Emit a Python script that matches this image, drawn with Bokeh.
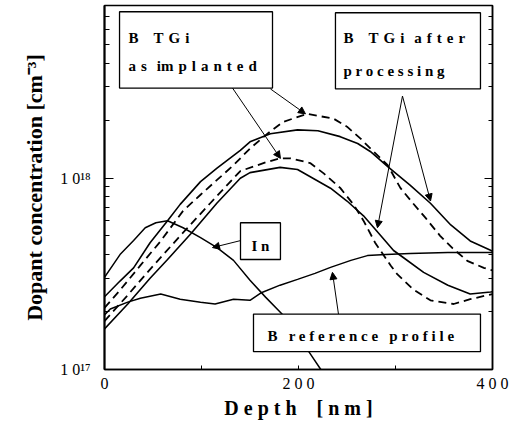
from bokeh.plotting import figure
from bokeh.models import Label, Arrow, NormalHead, LogAxis, FixedTicker
from bokeh.embed import file_html
from bokeh.resources import INLINE

# ---- SIMS depth profiles (depth in nm, concentration in cm^-3) ----
# B TGi after processing, upper profile (solid)
proc_hi_depth = [0, 16, 30, 47, 65, 78, 99, 116, 140, 150, 171, 199, 220, 243, 261,
                 274, 292, 315, 336, 357, 377, 398, 400]
proc_hi_conc = [2.4e17, 2.9e17, 3.4e17, 4.6e17, 6.0e17, 7.3e17, 9.6e17, 1.13e18, 1.40e18,
                1.55e18, 1.71e18, 1.79e18, 1.77e18, 1.65e18, 1.52e18, 1.38e18, 1.15e18,
                9.2e17, 7.4e17, 5.7e17, 4.7e17, 4.2e17, 4.15e17]

# B TGi as implanted, upper profile (dashed)
impl_hi_depth = [0, 16, 37, 58, 81, 99, 116, 133, 150, 168, 184, 209, 220, 236, 250,
                 264, 276, 292, 305, 317, 331, 346, 359, 374, 391, 400]
impl_hi_conc = [2.1e17, 2.6e17, 3.5e17, 4.7e17, 6.75e17, 8.2e17, 9.8e17, 1.17e18, 1.43e18,
                1.71e18, 1.97e18, 2.17e18, 2.12e18, 2.05e18, 1.86e18, 1.61e18, 1.40e18,
                1.17e18, 8.9e17, 7.5e17, 6.2e17, 5.0e17, 4.3e17, 3.7e17, 3.4e17, 3.3e17]

# B TGi as implanted, lower profile (dashed)
impl_lo_depth = [0, 24, 47, 78, 109, 140, 166, 181, 192, 212, 226, 243, 257, 267, 279,
                 295, 302, 318, 336, 360, 377, 395, 400]
impl_lo_conc = [1.79e17, 2.45e17, 3.34e17, 5.0e17, 7.4e17, 1.09e18, 1.21e18, 1.27e18,
                1.27e18, 1.20e18, 1.06e18, 8.9e17, 7.25e17, 6.0e17, 4.6e17, 3.5e17,
                3.14e17, 2.63e17, 2.3e17, 2.2e17, 2.33e17, 2.45e17, 2.48e17]

# B TGi after processing, lower profile (solid)
proc_lo_depth = [0, 24, 47, 65, 89, 116, 140, 150, 181, 199, 233, 250, 267, 284, 298,
                 308, 329, 354, 377, 398, 400]
proc_lo_conc = [1.63e17, 2.2e17, 3.0e17, 3.76e17, 5.13e17, 7.42e17, 1.0e18, 1.07e18,
                1.14e18, 1.11e18, 8.87e17, 7.6e17, 6.36e17, 5.07e17, 4.19e17, 3.85e17,
                3.22e17, 2.76e17, 2.48e17, 2.54e17, 2.55e17]

# B reference profile (solid)
ref_depth = [0, 6, 24, 37, 58, 78, 99, 114, 133, 150, 161, 181, 199, 217, 233, 254,
             271, 290, 315, 354, 400]
ref_conc = [1.93e17, 2.07e17, 2.25e17, 2.36e17, 2.48e17, 2.33e17, 2.25e17, 2.2e17,
            2.33e17, 2.3e17, 2.51e17, 2.76e17, 2.96e17, 3.18e17, 3.42e17, 3.72e17,
            3.94e17, 3.99e17, 4.04e17, 4.09e17, 4.09e17]

# In profile (solid)
in_depth = [0, 16, 30, 42, 53, 65, 81, 99, 116, 133, 150, 166, 183, 198, 212, 223]
in_conc = [3.03e17, 3.99e17, 4.72e17, 5.51e17, 5.85e17, 5.99e17, 5.51e17, 4.89e17,
           4.34e17, 3.72e17, 2.93e17, 2.39e17, 1.95e17, 1.54e17, 1.21e17, 1.0e17]

x_major_ticks = [0, 200, 400]
x_minor_ticks = [100, 300]
x_tick_labels = {0: "0", 200: "2 0 0", 400: "4 0 0"}
y_major_ticks = [1e17, 1e18]
y_minor_ticks = [2e17, 3e17, 4e17, 5e17, 6e17, 7e17, 8e17, 9e17,
                 2e18, 3e18, 4e18, 5e18, 6e18, 7e18]
y_tick_labels = {1e17: "1 0\u00b9\u2077", 1e18: "1 0\u00b9\u2078"}

FONT = "Liberation Serif"
NB = "\u00a0"
SP = "\u2004"   # three-per-em space used for letter spacing

p = figure(width=509, height=421, x_range=(0, 400), y_range=(1e17, 8e18),
           y_axis_type="log", output_backend="svg", toolbar_location=None,
           min_border_left=104, min_border_right=17, min_border_top=5,
           min_border_bottom=48)
p.xgrid.visible = False
p.ygrid.visible = False
p.outline_line_color = "black"
p.outline_line_width = 1.5
p.background_fill_color = "white"
p.border_fill_color = "white"

# bottom axis
xa = p.xaxis[0]
xa.ticker = FixedTicker(ticks=x_major_ticks, minor_ticks=x_minor_ticks)
xa.major_label_overrides = x_tick_labels
xa.major_label_text_font = FONT
xa.major_label_text_font_size = "16px"
xa.major_label_text_color = "black"
xa.major_label_standoff = 5
xa.major_tick_in = 4
xa.major_tick_out = 0
xa.minor_tick_in = 4
xa.minor_tick_out = 0
xa.major_tick_line_color = "black"
xa.minor_tick_line_color = "black"
xa.axis_line_color = "black"
xa.axis_line_width = 1.5
xa.axis_label = "D e p t h" + NB + NB + NB + " [ n m ]"
xa.axis_label_text_font = FONT
xa.axis_label_text_font_style = "bold"
xa.axis_label_text_font_size = "20px"
xa.axis_label_text_color = "black"
xa.axis_label_standoff = 2

# left axis
ya = p.yaxis[0]
ya.ticker = FixedTicker(ticks=y_major_ticks, minor_ticks=y_minor_ticks)
ya.major_label_overrides = y_tick_labels
ya.major_label_text_font = FONT
ya.major_label_text_font_size = "16px"
ya.major_label_text_color = "black"
ya.major_label_standoff = 14
ya.major_tick_in = 9
ya.major_tick_out = 0
ya.minor_tick_in = 5
ya.minor_tick_out = 0
ya.major_tick_line_color = "black"
ya.minor_tick_line_color = "black"
ya.axis_line_color = "black"
ya.axis_line_width = 2
ya.axis_label = "Dopant concentration [cm\u207b\u00b3]"
ya.axis_label_text_font = FONT
ya.axis_label_text_font_style = "bold"
ya.axis_label_text_font_size = "22px"
ya.axis_label_text_color = "black"
ya.axis_label_standoff = 10

# right axis: ticks only
right_axis = LogAxis(ticker=FixedTicker(ticks=y_major_ticks, minor_ticks=y_minor_ticks),
                     major_label_overrides={1e17: "", 1e18: ""},
                     major_label_text_font_size="0px", major_label_text_color=None,
                     major_label_standoff=0,
                     major_tick_in=8, major_tick_out=0, minor_tick_in=4,
                     minor_tick_out=0, axis_line_width=1.5, axis_line_color="black",
                     major_tick_line_color="black", minor_tick_line_color="black")
p.add_layout(right_axis, "right")

# profiles
p.line(in_depth, in_conc, line_color="black", line_width=1.5)
p.line(ref_depth, ref_conc, line_color="black", line_width=1.5)
p.line(proc_hi_depth, proc_hi_conc, line_color="black", line_width=1.6)
p.line(proc_lo_depth, proc_lo_conc, line_color="black", line_width=1.6)
p.line(impl_hi_depth, impl_hi_conc, line_color="black", line_width=1.8, line_dash="8 5")
p.line(impl_lo_depth, impl_lo_conc, line_color="black", line_width=1.8, line_dash="8 5")

# annotation boxes (white filled so they hide the curves behind them)
p.quad(left=[15.5, 238.1, 140.2, 153.6], right=[173.2, 387.6, 181.4, 387.6],
       bottom=[2.96e18, 2.93e18, 3.76e17, 1.24e17], top=[7.42e18, 7.33e18, 5.85e17, 1.95e17],
       fill_color="white", line_color="black", line_width=1.3)


def add_text(x, y, text, size, align="left"):
    p.add_layout(Label(x=x, y=y, text=text, text_font=FONT,
                       text_font_size=f"{size}px", text_font_style="bold",
                       text_align=align, text_baseline="alphabetic",
                       text_color="black"))


def spaced(word):
    return SP.join(word)


add_text(24.7, 5.44e18, "B" + SP * 3 + spaced("TGi"), 15)
add_text(24.7, 3.85e18, spaced("as") + SP * 2 + "im" + SP + spaced("planted"), 15)
add_text(246.4, 5.44e18, "B" + SP * 3 + spaced("TGi") + SP * 2 + spaced("after"), 15)
add_text(246.4, 3.63e18, "p r o c e s s i n g", 15)
add_text(160.8, 4.44e17, "I n", 15, align="center")
add_text(168.0, 1.5e17, "B" + NB + NB + " r e f e r e n c e" + NB + NB + " p r o f i l e", 15)


def add_arrow(x0, y0, x1, y1):
    p.add_layout(Arrow(end=NormalHead(size=7, fill_color="black", line_color="black",
                                      line_width=1),
                       x_start=x0, y_start=y0, x_end=x1, y_end=y1,
                       line_color="black", line_width=1))


add_arrow(171.1, 2.93e18, 207.2, 2.17e18)
add_arrow(132.0, 2.96e18, 181.4, 1.27e18)
add_arrow(307.2, 2.69e18, 336.1, 7.6e17)
add_arrow(307.2, 2.69e18, 281.4, 5.51e17)
add_arrow(140.2, 4.72e17, 111.3, 4.34e17)
add_arrow(241.2, 1.95e17, 235.0, 3.22e17)

open("out.html", "w").write(file_html(p, INLINE))
